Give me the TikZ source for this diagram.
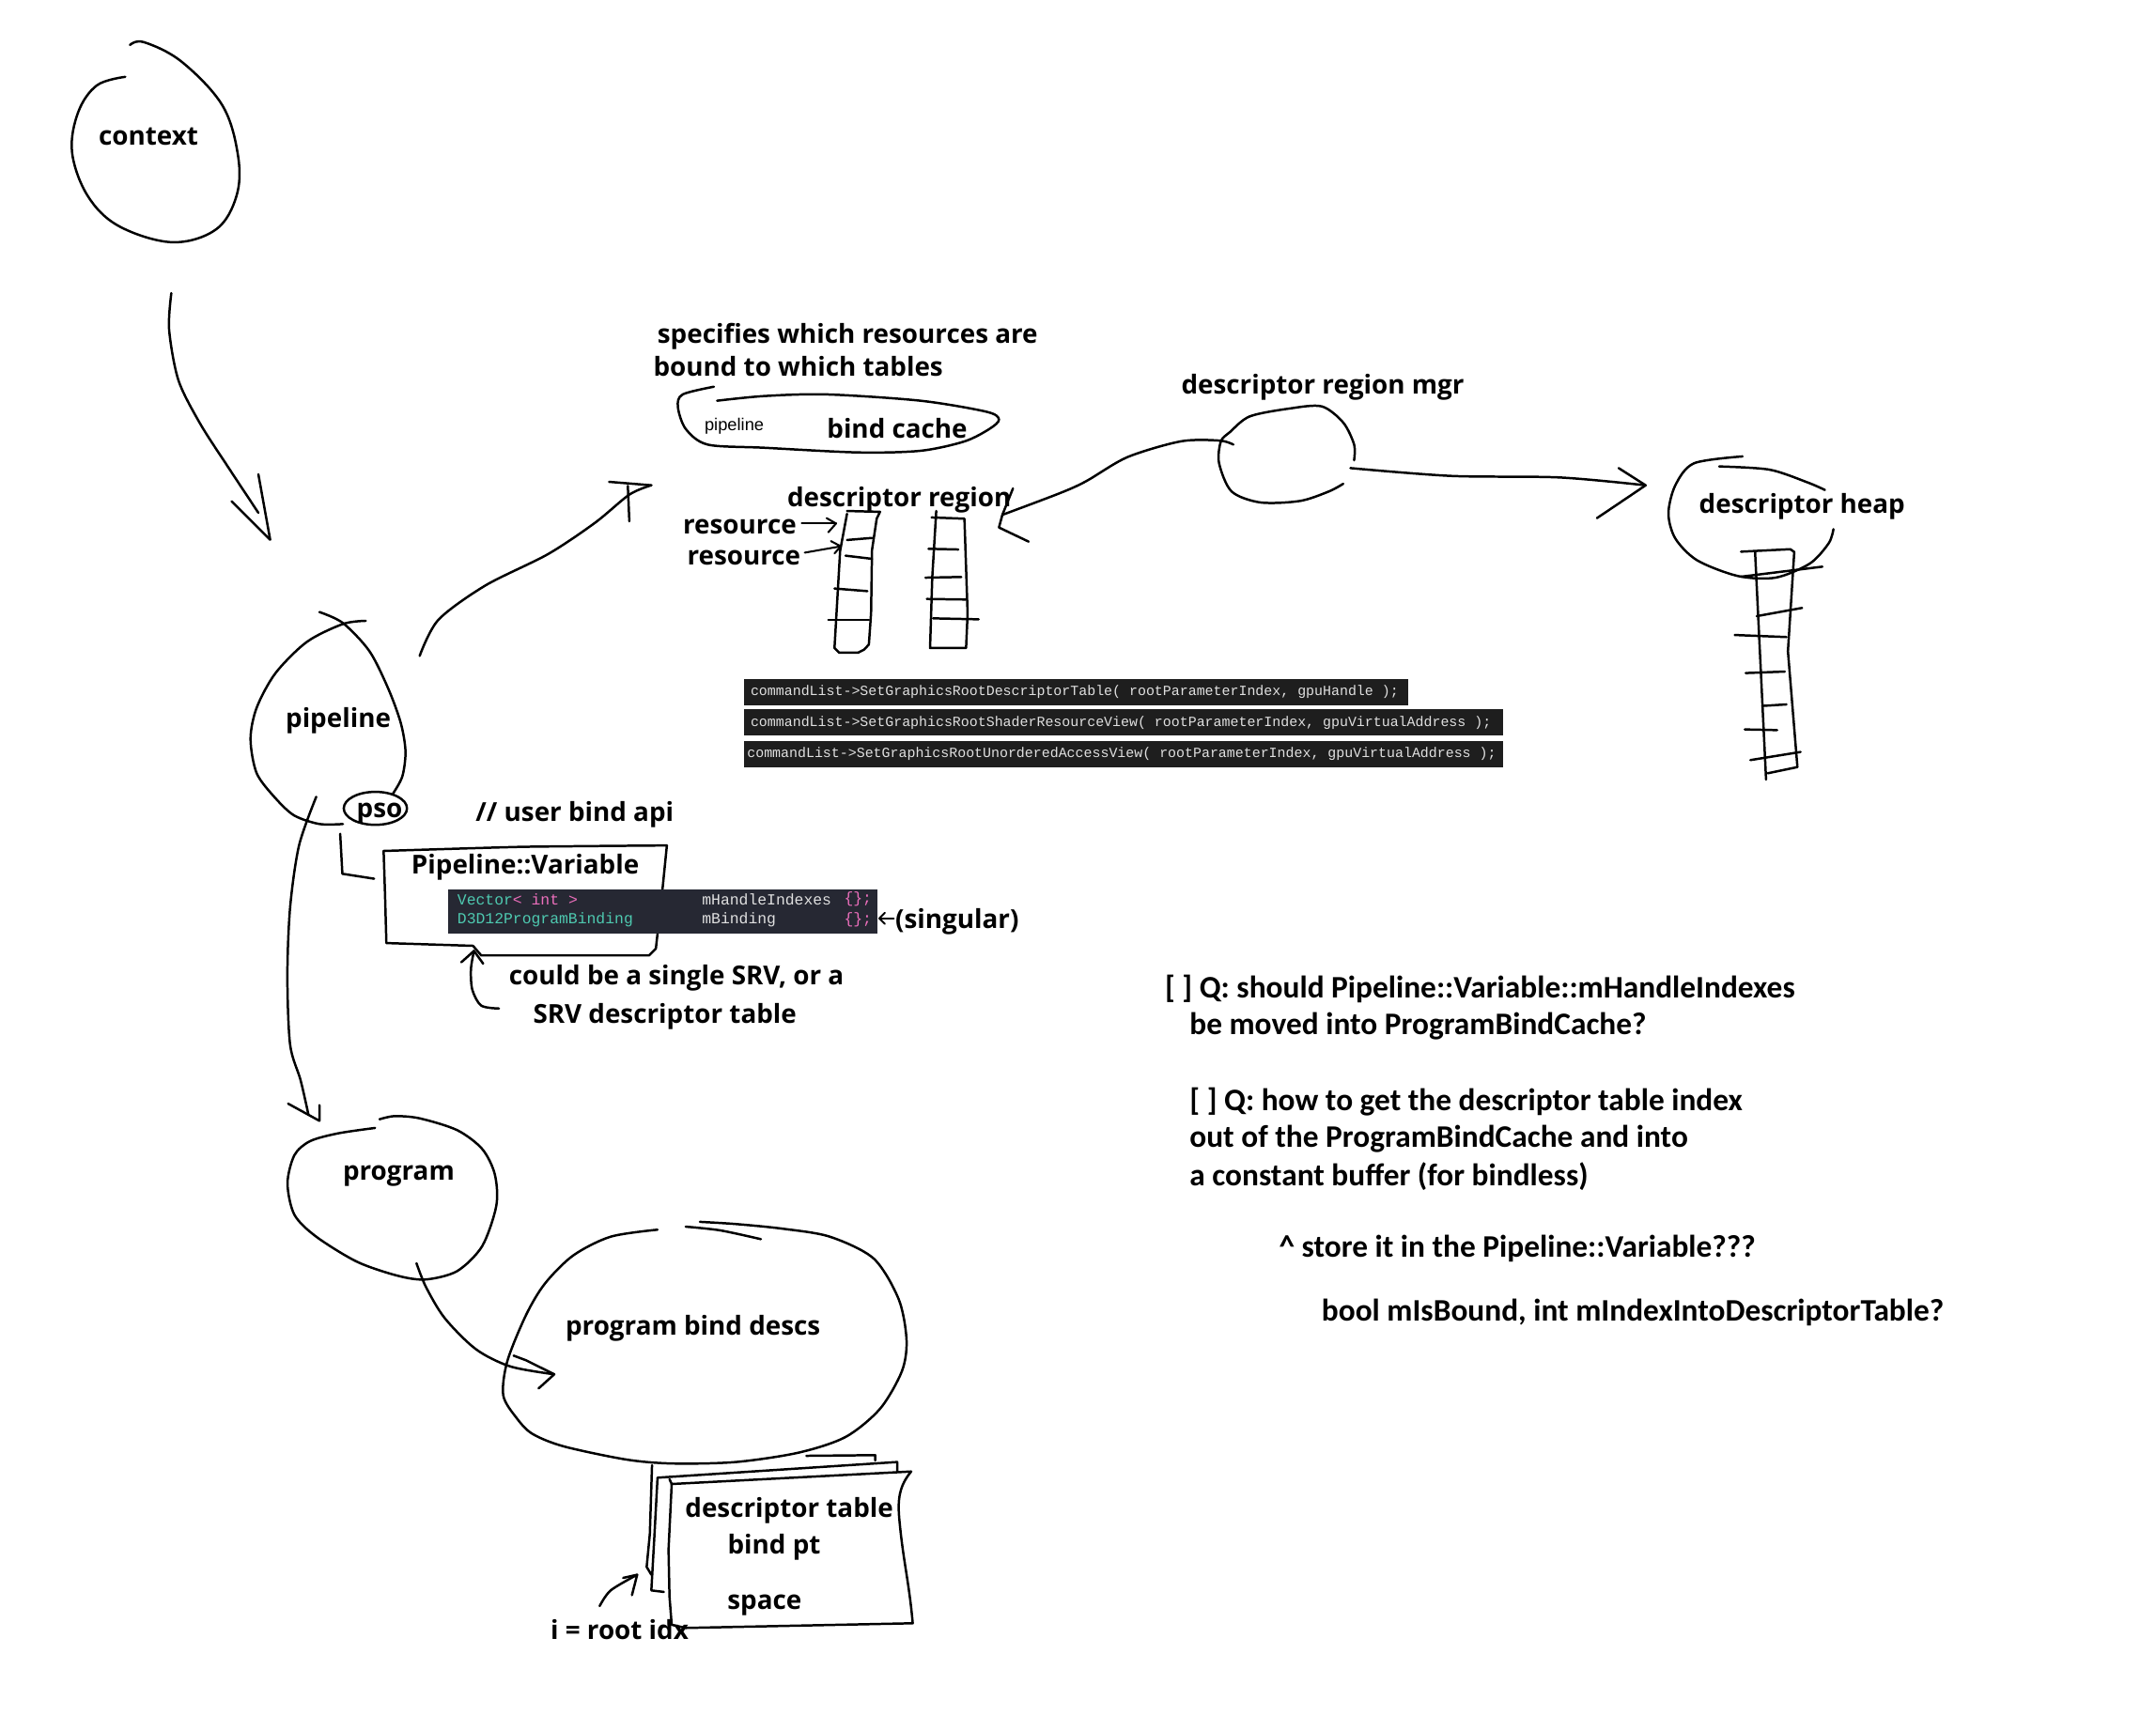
\documentclass[tikz,border=0pt]{standalone}
\usepackage{fontspec}
\setmainfont{Open Sans}
\newfontfamily\notefont{Carlito}
\newfontfamily\codefont{Liberation Mono}
\newfontfamily\uifont{Liberation Sans}
\usetikzlibrary{arrows.meta}
\definecolor{codebg}{HTML}{1E1E1E}
\definecolor{structbg}{HTML}{262833}
\definecolor{codefg}{HTML}{E0E0E0}
\definecolor{codeteal}{HTML}{4EC9B0}
\definecolor{codepink}{HTML}{EC6FBC}
\begin{document}
\begin{tikzpicture}[x=1pt,y=-1pt,
  ink/.style={line width=1.7pt, line cap=round, line join=round},
  lbl/.style={inner sep=0pt, yshift=-2.5pt, font=\fontsize{19}{23}\selectfont\bfseries},
  note/.style={inner sep=0pt, anchor=west, yshift=-1.5pt, font=\notefont\fontsize{22.8}{27}\selectfont\bfseries},
  cmd/.style={inner sep=0pt, anchor=west, text=codefg, font=\codefont\fontsize{10.2}{12}\selectfont},
  fld/.style={inner sep=0pt, anchor=west, font=\codefont\fontsize{11.2}{13}\selectfont}
]
\useasboundingbox[fill=white] (0,0) rectangle (1568,1258.5);

% ---------- context ----------
\node[lbl] (context) at (108,97) {context};
\draw[ink] plot[smooth, tension=0.6] coordinates {(91.1,55.9) (70.6,62) (56.9,81.5) (52.4,110.7) (63.8,142.5) (86.5,164.5) (125.2,176.2) (157.1,166.9) (172,142.5) (173.1,113.2) (161.7,76.6) (132.1,44.9) (104.8,30.7) (94.5,32.7)};
\coordinate (ctxOut) at (124.6,213.2);
\coordinate (pipeIn) at (196.5,392.6);
\draw[ink] plot[smooth] coordinates {(ctxOut) (123,239.8) (129.8,276.7) (145.7,308.4) (166.2,340.2) (187.9,373)};
\draw[ink] (168.5,364.6) -- (pipeIn) -- (187.9,345);

% ---------- pipeline ----------
\node[lbl] (pipeline) at (246,522) {pipeline};
\draw[ink] plot[smooth] coordinates {(232.3,445.2) (249.4,453.2) (268.7,473.7) (282.4,501) (291.5,526) (294.9,546.6) (292.6,564.8) (285.8,577.3)};
\draw[ink] plot[smooth] coordinates {(266,451.6) (249.4,453.9) (223.2,466.9) (200.4,489.6) (186.7,514.7) (182.2,537.5) (186.7,562.5) (200.4,580.7) (214,593.2) (232.3,599.4) (249.4,599.4)};
\draw[ink] (273,588) ellipse [x radius=23, y radius=12];
\node[lbl] (pso) at (276,589) {pso};

% pipeline -> program
\coordinate (pipeDown) at (230,579.6);
\coordinate (progIn) at (232.3,815.3);
\draw[ink] plot[smooth] coordinates {(pipeDown) (217.5,614.9) (211,660) (209,710) (211,760) (218.6,785.7) (224.3,810.7)};
\draw[ink] (209.5,802.8) -- (progIn) -- (232.3,803.9);

% pipeline -> bind cache
\coordinate (pipeUp) at (305.2,477.1);
\coordinate (cacheIn) at (473.7,353);
\draw[ink] plot[smooth] coordinates {(pipeUp) (318.8,450.9) (353,425.9) (398.5,403.1) (432.7,380.3) (457.7,359.8) (cacheIn)};
\draw[ink] (443,350.5) -- (cacheIn);
\draw[ink] (456.6,353.5) -- (457.7,379.2);

% ---------- user bind api ----------
\node[lbl] (userapi) at (418,590) {// user bind api};
\draw[ink] (247.4,606.5) -- (249,635.6) -- (272.1,639.2);
\draw[ink] plot[smooth, tension=0.3] coordinates {(279,619) (380,616) (485,615)};
\draw[ink] (485,615) -- (482,645) -- (477,690) -- (472,695) -- (350,695) -- (344,688) -- (281,686) -- (280,650) -- (279,619);
\node[lbl] (pvar) at (382,628) {Pipeline::Variable};
\fill[structbg] (326,647) rectangle (638,679);
\node[fld, text=codeteal] (vecType) at (332.5,654) {Vector\textcolor{codepink}{< int >}};
\node[fld, text=codefg] (vecName) at (510.4,654) {mHandleIndexes};
\node[fld, text=codepink] (vecInit) at (613.7,654) {\{\};};
\node[fld, text=codeteal] (bindType) at (332.5,669) {D3D12ProgramBinding};
\node[fld, text=codefg] (bindName) at (510.4,669) {mBinding};
\node[fld, text=codepink] (bindInit) at (613.7,669) {\{\};};
\node[lbl, anchor=west] (singular) at (651,668) {(singular)};
\coordinate (singTip) at (639.5,668);
\draw[ink, line width=1.4pt] (650,668) -- (singTip);
\draw[ink, line width=1.4pt] (643.5,664) -- (singTip) -- (643.5,672);

\node[lbl] (could1) at (492,709) {could be a single SRV, or a};
\node[lbl] (could2) at (483.5,737) {SRV descriptor table};
\coordinate (pvarIn) at (344.7,691.7);
\draw[ink] plot[smooth] coordinates {(362.9,733.6) (350,731.5) (343.5,720) (342.5,705) (pvarIn)};
\draw[ink] (335.5,700) -- (pvarIn) -- (351.4,701);

% ---------- bind cache ----------
\node[lbl, anchor=west] (spec1) at (478,242) {specifies which resources are};
\node[lbl, anchor=west] (spec2) at (475,264) {bound to which tables};
\draw[ink] plot[smooth] coordinates {(519.2,281.3) (496.5,286.9) (493,296) (498.7,312) (514.7,323.4) (555.7,325.7) (624,329.1) (669.5,327.9) (701.4,321.1) (719.6,312) (726.5,305.2) (717.4,299.5) (669.5,291.5) (601.2,286.9) (555.7,288.1) (521.5,291.5)};
\node[inner sep=0pt, font=\uifont\fontsize{12.5}{14}\selectfont] (pipesmall) at (534,309.7) {pipeline};
\node[lbl] (bindcache) at (652.5,309) {bind cache};

% ---------- descriptor region ----------
\node[lbl] (dregion) at (654,361) {descriptor region};
\node[lbl] (res1) at (538,381) {resource};
\node[lbl] (res2) at (541,403) {resource};
\draw[ink, line width=1.4pt] (583,380.8) -- (608,380.8);
\draw[ink, line width=1.4pt] (601.2,376.9) -- (608,380.8) -- (602.4,387.2);
\draw[ink, line width=1.4pt] (585.3,402) -- (611.5,397.4);
\draw[ink, line width=1.4pt] (604.3,393.6) -- (611.5,397.4) -- (606.9,402.6);
% left table
\draw[ink] (616,371.7) -- (640,372.3) -- (637.6,377.3) -- (634.2,400) -- (633.5,446) -- (631.9,468.8) -- (628.5,472.5) -- (624,474.8) -- (610.4,474.8) -- (606.9,471.4) -- (611,400.6) -- (616,373.8);
\draw[ink] (616,392.8) -- (634.2,391.3);
\draw[ink] (614.9,404.2) -- (634.2,406.5);
\draw[ink] (606.9,428.1) -- (630.8,430);
\draw[ink] (602.4,450.9) -- (632,450.9);
% right table
\draw[ink] (677.5,376.4) -- (701.4,377.3) -- (703.7,446.3) -- (702.6,471.4) -- (676.4,471.4) -- (678,420) -- (680.9,371.7);
\draw[ink] (675.3,399.2) -- (696.9,399.7);
\draw[ink] (673,420.2) -- (699.1,419.7);
\draw[ink] (674.1,435.7) -- (702.5,436.1);
\draw[ink] (678.6,449.8) -- (711.7,450.5);

% ---------- descriptor region mgr ----------
\node[lbl] (mgr) at (962,279) {descriptor region mgr};
\draw[ink] plot[smooth] coordinates {(984.8,334.8) (984.8,323.4) (976.9,307.4) (961.2,295.6) (937.6,297.2) (908.9,302.9) (894.5,314.3) (887.9,321.1) (886.6,337) (895.7,357.5) (916.7,365.5) (945.5,364.4) (966.4,357.5) (976.9,351.9)};
\coordinate (mgrOutL) at (897,323.4);
\coordinate (regionIn) at (729,374.5);
\draw[ink] plot[smooth] coordinates {(mgrOutL) (887,320.5) (859,321) (820,332.5) (790,350) (770.9,358.7) (regionIn)};
\draw[ink] (736.7,355.3) -- (regionIn) -- (726.5,383.7) -- (748.1,394);
\coordinate (mgrOutR) at (982.1,340.5);
\coordinate (heapIn) at (1196.8,353);
\draw[ink] plot[smooth] coordinates {(mgrOutR) (1055.4,346.2) (1134,347.3) (heapIn)};
\draw[ink] (1177.2,340.5) -- (heapIn) -- (1190.2,357.5) -- (1161.4,376.9);

% ---------- descriptor heap ----------
\node[lbl] (heap) at (1310.6,366) {descriptor heap};
\draw[ink] plot[smooth] coordinates {(1267.3,332) (1232,337) (1218.4,353) (1213.4,373.5) (1218.4,391.7) (1234.3,407.6) (1263.9,419) (1291.3,420.2) (1316.3,409.9) (1330,395.1) (1333.4,384.9)};
\draw[ink] plot[smooth] coordinates {(1250.3,339.3) (1286.7,341.6) (1314,350.7) (1327.2,356.4)};
\draw[ink] (1266.2,401.3) -- (1302,399.5) -- (1304.9,401.5) -- (1300.3,473.7) -- (1307.2,558) -- (1285.6,562.5);
\draw[ink] (1276.4,401.3) -- (1284.4,567.1);
\draw[ink] (1266.2,419.5) -- (1325.4,412.2);
\draw[ink] (1277.6,448.2) -- (1310.6,442.2);
\draw[ink] (1261.6,461.9) -- (1299.2,463.4);
\draw[ink] (1269.6,489.6) -- (1298.1,488.5);
\draw[ink] (1281.7,513.5) -- (1299.2,512.4);
\draw[ink] (1268.9,530.6) -- (1292.4,531.1);
\draw[ink] (1273,552.9) -- (1309.5,547);

% ---------- command list calls ----------
\fill[codebg] (541,494) rectangle (1024,513);
\fill[codebg] (541,516) rectangle (1093,535);
\fill[codebg] (541,539) rectangle (1093,558);
\node[cmd] (call1) at (545.7,503.5) {commandList->SetGraphicsRootDescriptorTable( rootParameterIndex, gpuHandle );};
\node[cmd] (call2) at (545.7,525.5) {commandList->SetGraphicsRootShaderResourceView( rootParameterIndex, gpuVirtualAddress );};
\node[cmd] (call3) at (543.2,548.5) {commandList->SetGraphicsRootUnorderedAccessView( rootParameterIndex, gpuVirtualAddress );};

% ---------- program ----------
\node[lbl] (program) at (290,853) {program};
\draw[ink] plot[smooth] coordinates {(272.8,820.5) (246,824.4) (225.5,830.1) (214.1,840.3) (209.1,860.8) (214.1,883.6) (230,899.6) (259.6,917.8) (289.2,928) (309.7,930.7) (332.5,924.6) (350.7,906.4) (361,876.8) (359.8,854) (350.7,835.8) (332.5,822.1) (305.2,813.5) (286.9,811.9) (276,814.2)};
\coordinate (progOut) at (302.9,918.9);
\coordinate (descsIn) at (403.1,999.7);
\draw[ink] plot[smooth] coordinates {(progOut) (309.7,936) (323.4,958.8) (346.2,981.5) (371.2,994) (descsIn)};
\draw[ink] (373.5,986.1) -- (382.6,989.5) -- (descsIn) -- (391.7,1010);

% ---------- program bind descs ----------
\node[lbl] (descs) at (504,964) {program bind descs};
\draw[ink] plot[smooth] coordinates {(478.2,894.5) (444.1,899.6) (416.8,913.3) (396.3,933.7) (382.6,956.5) (369,990) (366,1015) (375.8,1031.6) (387.2,1043) (409.9,1052.1) (455.5,1061.7) (489.6,1064.6) (535.2,1063.5) (580.7,1056.7) (614.9,1045.3) (640,1024.8) (655.9,997.5) (659.3,974.7) (653.6,945.1) (635.4,915.5) (603.5,899.6) (569.3,893.8) (535.2,890.4) (509,888.8)};
\draw[ink] plot[smooth] coordinates {(498.7,892.3) (523.8,895) (553.4,901.4)};

% descriptor table sheets (back to front)
\draw[ink] (474.2,1065.8) -- (472.6,1115.9) -- (470.3,1139.8) -- (473.7,1145.5);
\draw[ink] (586.4,1059) -- (636.5,1058.5) -- (636.5,1062.4);
\draw[ink] (482.8,1158) -- (473.7,1156.9) -- (476,1115.9) -- (478.2,1074.9) -- (652.5,1063.5) -- (652.5,1070.4);
\draw[ink, fill=white] (488.5,1079.5) -- (662.7,1070.4) to[out=-130,in=95] (654,1104.5) to[out=-85,in=95] (663.8,1180.8) -- (498.7,1184.2) -- (488.5,1181.9) -- (486.9,1161.4) -- (486.2,1127.3) -- cycle;
\draw[ink] (486.9,1076) -- (488.5,1079.5);
\node[lbl] (dtable) at (574,1096) {descriptor table};
\node[lbl] (bindpt) at (563,1123) {bind pt};
\node[lbl] (space) at (556,1165) {space};
\node[lbl] (rootidx) at (450.6,1183) {i = root idx};
\coordinate (idxOut) at (436.1,1168.3);
\coordinate (sheetIn) at (463.4,1145.5);
\draw[ink] plot[smooth] coordinates {(idxOut) (444.1,1156.9) (sheetIn)};
\draw[ink] (453.2,1147.8) -- (sheetIn) -- (459.6,1160.3);

% ---------- open questions ----------
\node[note] (q1a) at (847,718) {[ ] Q: should Pipeline::Variable::mHandleIndexes};
\node[note] (q1b) at (865,745) {be moved into ProgramBindCache?};
\node[note] (q2a) at (865,800) {[ ] Q: how to get the descriptor table index};
\node[note] (q2b) at (865,827) {out of the ProgramBindCache and into};
\node[note] (q2c) at (865,854) {a constant buffer (for bindless)};
\node[note] (q3) at (930,907) {\textasciicircum\ store it in the Pipeline::Variable???};
\node[note] (q4) at (961,953) {bool mIsBound, int mIndexIntoDescriptorTable?};
\end{tikzpicture}
\end{document}
